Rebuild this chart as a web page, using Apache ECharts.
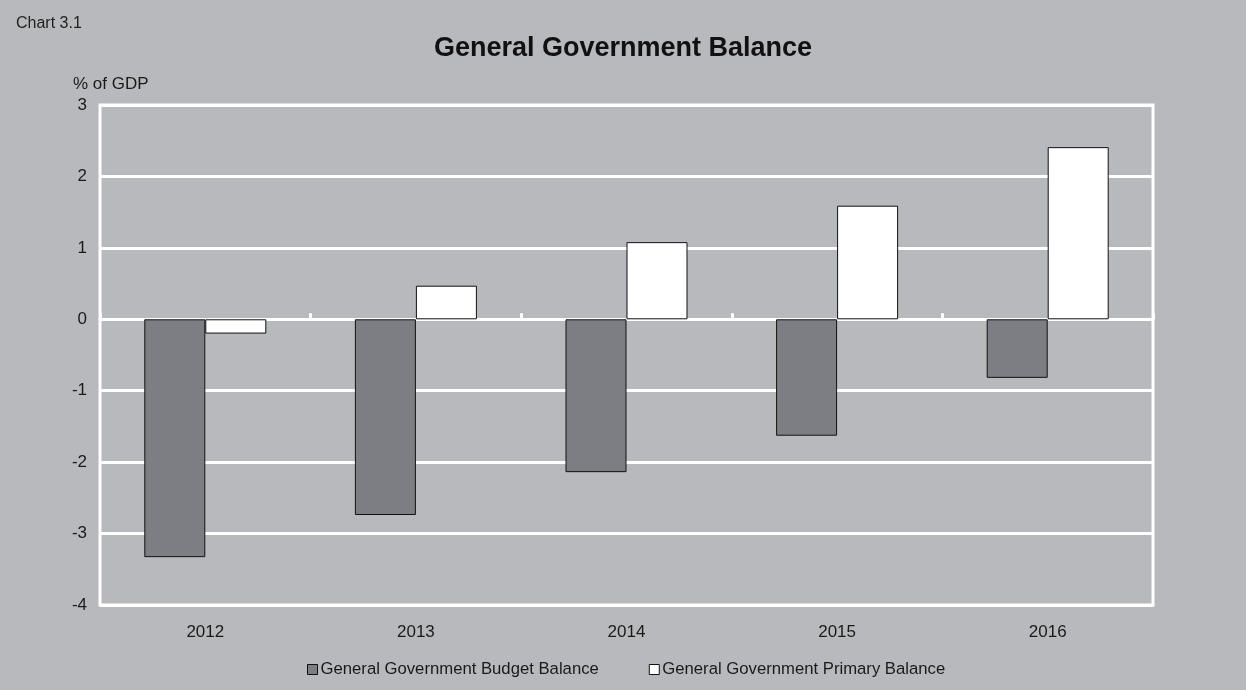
<!DOCTYPE html>
<html>
<head>
<meta charset="utf-8">
<script src="https://cdn.jsdelivr.net/npm/echarts@6/dist/echarts.min.js"></script>
<style>
  html, body { margin: 0; padding: 0; background: #b8b9bd; }
  #chart { width: 1246px; height: 690px; }
</style>
</head>
<body>
<div id="chart"></div>
<script>
const years = ['2012', '2013', '2014', '2015', '2016'];
const budgetBalance = [-3.33, -2.74, -2.14, -1.63, -0.82];
const primaryBalance = [-0.2, 0.47, 1.08, 1.59, 2.41];
const seriesNames = ['General Government Budget Balance', 'General Government Primary Balance'];

const FONT = '"Liberation Sans", Arial, sans-serif';
const TEXT = '#1a1a1a';
const chart = echarts.init(document.getElementById('chart'));

chart.setOption({
  backgroundColor: '#b8b9bd',
  animation: false,
  textStyle: { fontFamily: FONT, color: TEXT },
  graphic: [
    { type: 'text', left: 16, top: 16, style: { text: 'Chart 3.1', font: '16px ' + FONT, fill: '#222' } }
  ],
  title: {
    text: 'General Government Balance',
    left: 'center',
    top: 30,
    textStyle: { fontFamily: FONT, fontSize: 27, fontWeight: 'bold', color: '#111' }
  },
  legend: {
    bottom: 7,
    left: 302,
    itemWidth: 10,
    itemHeight: 10,
    itemGap: 50,
    icon: 'rect',
    itemStyle: { borderWidth: 1, borderColor: '#111' },
    textStyle: { fontFamily: FONT, fontSize: 16.7, color: TEXT, padding: [0, 0, 0, -2] },
    data: seriesNames
  },
  grid: {
    left: 100, right: 93, top: 105, bottom: 85,
    show: true,
    borderColor: '#ffffff',
    borderWidth: 3
  },
  xAxis: [
    {
      // zero line with short marks between categories
      type: 'category',
      data: years,
      axisLine: { onZero: true, lineStyle: { color: '#ffffff', width: 3 } },
      axisTick: { show: true, inside: true, length: 6, lineStyle: { color: '#ffffff', width: 3 } },
      axisLabel: { show: false },
      splitLine: { show: false }
    },
    {
      // year labels under the plot frame
      type: 'category',
      data: years,
      position: 'bottom',
      axisLine: { show: false, onZero: false },
      axisTick: { show: false },
      axisLabel: { fontSize: 17, color: TEXT, margin: 19, fontFamily: FONT },
      splitLine: { show: false }
    }
  ],
  yAxis: {
    type: 'value',
    min: -4,
    max: 3,
    interval: 1,
    name: '% of GDP',
    nameLocation: 'end',
    nameGap: 12,
    nameTextStyle: { fontSize: 17, color: TEXT, align: 'left', padding: [0, 0, 0, -27] },
    axisLine: { show: false },
    axisTick: { show: false },
    axisLabel: { fontSize: 17, color: TEXT, margin: 13 },
    splitLine: { lineStyle: { color: '#ffffff', width: 3 } }
  },
  series: [
    {
      name: seriesNames[0],
      type: 'bar',
      data: budgetBalance,
      barWidth: 61,
      barGap: '0%',
      itemStyle: { color: '#7d7e83', borderColor: '#111', borderWidth: 1 }
    },
    {
      name: seriesNames[1],
      type: 'bar',
      data: primaryBalance,
      barWidth: 61,
      barGap: '0%',
      itemStyle: { color: '#ffffff', borderColor: '#111', borderWidth: 1 }
    }
  ]
});
</script>
</body>
</html>
